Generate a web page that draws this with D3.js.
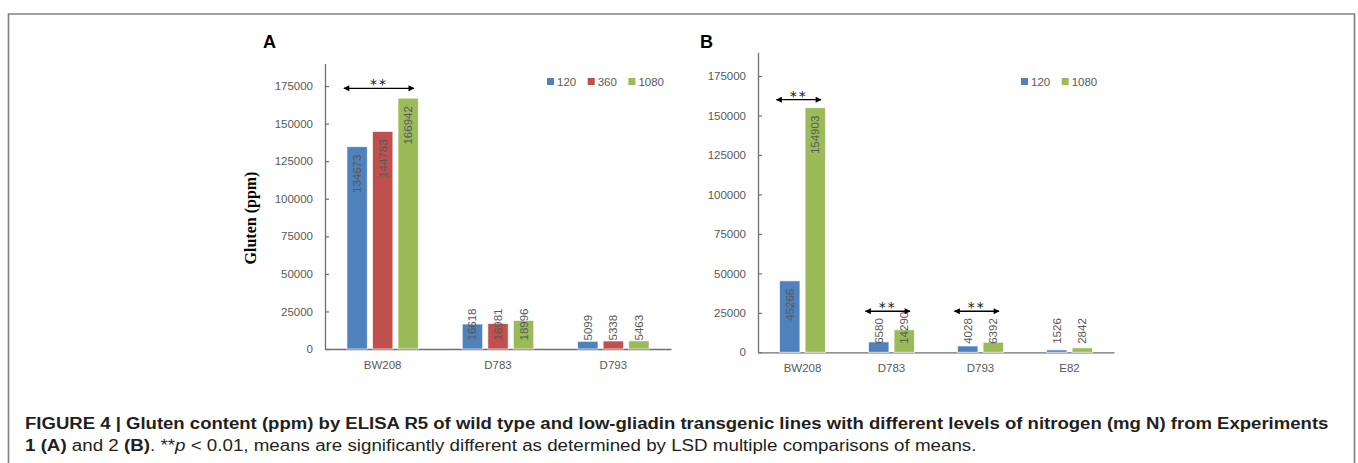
<!DOCTYPE html>
<html>
<head>
<meta charset="utf-8">
<script src="https://cdn.jsdelivr.net/npm/d3@7"></script>
<style>
  body { margin: 0; background: #fff; }
  svg { display: block; }
</style>
</head>
<body>
<div id="chart"></div>
<script>
// Panel A data (Experiment 1)
var catsA = ["BW208", "D783", "D793"];
var seriesA = ["120", "360", "1080"];
var a120 = [134673, 16618, 5099];
var a360 = [144783, 16981, 5338];
var a1080 = [166942, 18996, 5463];

// Panel B data (Experiment 2)
var catsB = ["BW208", "D783", "D793", "E82"];
var seriesB = ["120", "1080"];
var b120 = [45266, 6580, 4028, 1526];
var b1080 = [154903, 14290, 6392, 2842];

var yTicks = [0, 25000, 50000, 75000, 100000, 125000, 150000, 175000];

// significance marks (**), category and height of the arrow
var sigA = [{ cat: "BW208", y: 173500 }];
var sigB = [{ cat: "BW208", y: 160000 }, { cat: "D783", y: 26000 }, { cat: "D793", y: 26000 }];

var colors = { "120": "#4f81bd", "360": "#c0504d", "1080": "#9bbb59" };
var grey = "#595959";
var font = "'Liberation Sans', Arial, sans-serif";

var W = 1358, H = 463;
var svg = d3.select("#chart").append("svg").attr("width", W).attr("height", H);

// outer frame (no bottom edge visible)
svg.append("path")
   .attr("d", "M8.5,463 L8.5,14 L1354.5,14 L1354.5,463")
   .attr("fill", "none").attr("stroke", "#808080").attr("stroke-width", 1.6);

var defs = svg.append("defs");
["s", "e"].forEach(function(k) {
    defs.append("marker")
        .attr("id", "arr-" + k)
        .attr("viewBox", "0 -5 10 10")
        .attr("refX", 9).attr("refY", 0)
        .attr("markerWidth", 7).attr("markerHeight", 6)
        .attr("markerUnits", "userSpaceOnUse")
        .attr("orient", k == "s" ? "auto-start-reverse" : "auto")
        .append("path").attr("d", "M0,-5L10,0L0,5Z").attr("fill", "#000");
});

function drawPanel(p) {
    var g = svg.append("g");

    var x0 = d3.scaleBand().domain(p.cats).range([p.left, p.right]);
    var y = d3.scaleLinear().domain([0, 190000]).range([p.base, p.top]);

    // rows of values keyed by series
    var rows = p.cats.map(function(c, i) {
        var r = { cat: c };
        p.series.forEach(function(s, j) { r[s] = p.values[j][i]; });
        return r;
    });

    var n = p.series.length;
    var gw = n * 25.5 - 5;
    var x1 = d3.scaleBand().domain(p.series).range([-gw / 2, gw / 2]).paddingInner(0.2);

    // y axis
    var yAxis = d3.axisLeft(y).tickValues(yTicks).tickSizeInner(-4).tickSizeOuter(0).tickPadding(12)
                  .tickFormat(d3.format("d"));
    var ya = g.append("g").attr("transform", "translate(" + p.left + ",0)").call(yAxis);
    ya.select(".domain").attr("stroke", "#6f6f6f").attr("stroke-width", 1.3);
    ya.selectAll(".tick line").attr("stroke", "#6f6f6f").attr("stroke-width", 1.2);
    ya.selectAll("text").attr("fill", grey).style("font-family", font).style("font-size", "11.5px");

    // x axis
    var xAxis = d3.axisBottom(x0).tickSize(0).tickPadding(12);
    var xa = g.append("g").attr("transform", "translate(0," + p.base + ")").call(xAxis);
    xa.select(".domain").attr("stroke", "#6f6f6f").attr("stroke-width", 1.3);
    xa.selectAll("text").attr("fill", grey).style("font-family", font).style("font-size", "11.5px");

    // bars
    var groups = g.selectAll("g.grp").data(rows).enter().append("g")
                  .attr("class", "grp")
                  .attr("transform", function(d) { return "translate(" + (x0(d.cat) + x0.bandwidth() / 2) + ",0)"; });

    var cells = groups.selectAll("g.cell")
                      .data(function(d) { return p.series.map(function(s) { return { s: s, v: d[s] }; }); })
                      .enter().append("g").attr("class", "cell");

    cells.append("rect")
         .attr("x", function(d) { return x1(d.s); })
         .attr("y", function(d) { return y(d.v); })
         .attr("width", x1.bandwidth())
         .attr("height", function(d) { return p.base - y(d.v); })
         .attr("fill", function(d) { return colors[d.s]; })
         .attr("stroke", "#fff").attr("stroke-opacity", 0.7).attr("stroke-width", 1);

    // rotated value labels, inside the top of the bar or pushed up from the base
    cells.append("text")
         .text(function(d) { return d.v; })
         .attr("fill", grey)
         .style("font-family", font).style("font-size", "11.5px")
         .attr("text-anchor", "start")
         .attr("dominant-baseline", "central")
         .each(function(d) {
             var len = this.getComputedTextLength();
             var yb = Math.min(p.base - 8.5, y(d.v) + 8 + len);
             var xc = x1(d.s) + x1.bandwidth() / 2;
             d3.select(this).attr("transform", "translate(" + xc + "," + yb + ") rotate(-90)");
         });

    // significance arrows
    p.sig.forEach(function(s) {
        var c = x0(s.cat) + x0.bandwidth() / 2;
        var xs = c - gw / 2 - 3, xe = c + gw / 2 - 4.5;
        var ys = y(s.y);
        g.append("line")
         .attr("x1", xs).attr("x2", xe).attr("y1", ys).attr("y2", ys)
         .attr("stroke", "#000").attr("stroke-width", 1.3)
         .attr("marker-start", "url(#arr-s)").attr("marker-end", "url(#arr-e)");
        g.append("text")
         .attr("x", (xs + xe) / 2).attr("y", ys + 1)
         .attr("text-anchor", "middle")
         .attr("fill", "#111")
         .style("font-family", "'DejaVu Sans', sans-serif").style("font-size", "14px")
         .style("letter-spacing", "2px")
         .text("**");
    });

    // legend
    var lx = p.legX;
    p.series.forEach(function(s) {
        g.append("rect").attr("x", lx).attr("y", 78).attr("width", 7).attr("height", 7)
         .attr("fill", colors[s]);
        var t = g.append("text").attr("x", lx + 10).attr("y", 85.5)
                 .attr("fill", grey).style("font-family", font).style("font-size", "11.5px")
                 .text(s);
        lx += 10 + t.node().getComputedTextLength() + 11.5;
    });

    // panel letter
    g.append("text").attr("x", p.letterX).attr("y", p.letterY)
     .style("font-family", font).style("font-size", "18px").style("font-weight", "bold")
     .text(p.letter);
}

drawPanel({
    cats: catsA, series: seriesA, values: [a120, a360, a1080], sig: sigA,
    left: 325, right: 671, base: 349, top: 63.5,
    legX: 547, letter: "A", letterX: 263, letterY: 48.3
});

drawPanel({
    cats: catsB, series: seriesB, values: [b120, b1080], sig: sigB,
    left: 758, right: 1114, base: 352.3, top: 52.3,
    legX: 1021, letter: "B", letterX: 700, letterY: 47.5
});

// y axis title (panel A)
svg.append("text")
   .attr("transform", "translate(256,218) rotate(-90)")
   .attr("text-anchor", "middle")
   .style("font-family", "'Liberation Serif', 'Times New Roman', serif")
   .style("font-size", "16px").style("font-weight", "bold")
   .text("Gluten (ppm)");

// caption
function fitLine(sel, width) {
    var w = sel.node().getComputedTextLength();
    sel.attr("transform", "translate(25,0) scale(" + (width / w) + ",1) translate(-25,0)");
}

var cap1 = svg.append("text").attr("x", 25).attr("y", 429.3)
   .attr("fill", "#231f20")
   .style("font-family", font).style("font-size", "16px").style("font-weight", "bold")
   .text("FIGURE 4 | Gluten content (ppm) by ELISA R5 of wild type and low-gliadin transgenic lines with different levels of nitrogen (mg N) from Experiments");
fitLine(cap1, 1304);

var cap2 = svg.append("text").attr("x", 25).attr("y", 451.5)
   .attr("fill", "#231f20")
   .style("font-family", font).style("font-size", "16px");
cap2.append("tspan").style("font-weight", "bold").text("1 (A)");
cap2.append("tspan").text(" and 2 ");
cap2.append("tspan").style("font-weight", "bold").text("(B)");
cap2.append("tspan").text(". **");
cap2.append("tspan").style("font-style", "italic").text("p");
cap2.append("tspan").text(" < 0.01, means are significantly different as determined by LSD multiple comparisons of means.");
fitLine(cap2, 952);
</script>
</body>
</html>
